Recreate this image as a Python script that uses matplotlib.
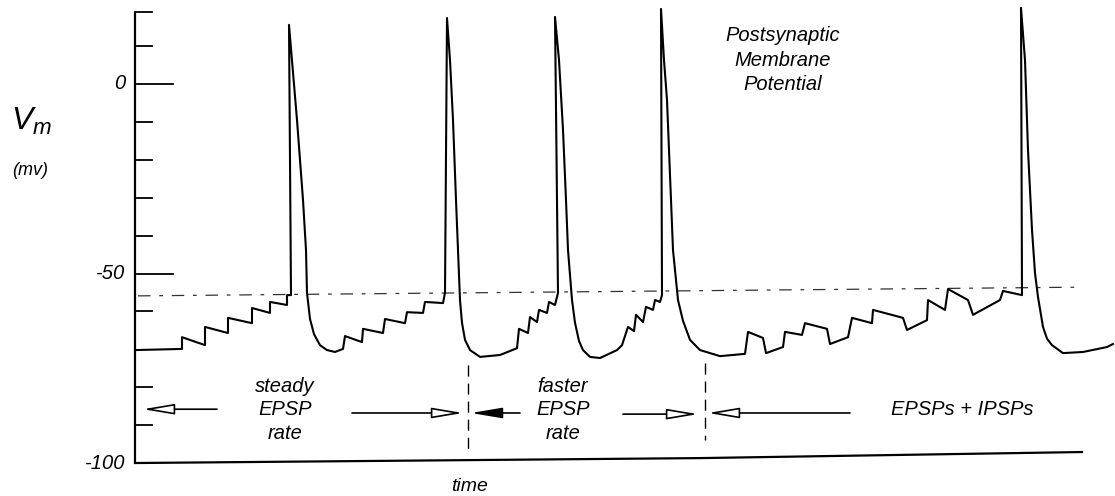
import matplotlib

matplotlib.use("Agg")
import matplotlib.pyplot as plt

plt.rcParams["font.family"] = ["Liberation Sans", "DejaVu Sans"]
plt.rcParams["mathtext.fontset"] = "custom"
plt.rcParams["mathtext.it"] = "Liberation Sans:italic"
plt.rcParams["mathtext.rm"] = "Liberation Sans"

# membrane potential trace (time in arbitrary units, V in mV)
TIME = [
    0.0, 4.7, 4.7, 7.0, 7.0, 9.3, 9.3, 11.7, 11.7, 13.5, 13.5, 15.2, 15.2, 15.6,
    15.4, 15.7, 16.2, 16.8, 17.1, 17.2, 17.5, 17.9, 18.5, 19.2, 20.0,
    20.8, 21.0, 22.7, 22.8, 24.8, 25.0, 27.0, 27.2, 28.8, 29.0, 30.8, 31.0,
    31.2, 31.5, 31.8, 32.1, 32.3, 32.5, 32.7, 33.0, 33.5, 34.5,
    36.5, 38.2, 38.4, 39.3, 39.5, 40.2, 40.4, 41.2, 41.4, 42.0, 42.2, 42.3,
    42.0, 42.4, 42.8, 43.1, 43.3, 43.7, 44.0, 44.4, 44.8, 45.5, 46.5,
    48.2, 48.7, 49.3, 49.9, 50.1, 50.8, 51.1, 51.8, 52.0, 52.5, 52.7,
    52.6, 52.9, 53.2, 53.6, 53.8, 54.3, 54.8, 55.5, 56.5, 58.5,
    61.0, 61.3, 62.8, 63.1, 64.8, 65.0, 66.7, 67.0, 69.2, 69.5, 71.3, 71.7,
    73.7, 73.8, 76.8, 77.2, 79.2, 79.3, 81.0, 81.3, 83.3, 83.8, 86.5, 86.8, 88.7,
    88.6, 89.0, 89.3, 89.7, 90.0, 90.3, 90.8, 91.2, 91.7, 92.8, 94.8, 97.2, 97.8,
]
VM = [
    -70.2, -69.9, -66.8, -68.9, -64.1, -65.7, -61.7, -63.1, -59.1, -60.4, -57.5, -58.3, -55.7, -55.7,
    15.6, 6.3, -9.5, -30.6, -43.8, -55.1, -62.0, -66.0, -68.9, -70.2, -70.7,
    -69.9, -66.5, -68.1, -64.6, -65.7, -62.0, -63.1, -60.2, -60.4, -57.5, -57.8, -55.1,
    17.4, 6.3, -9.5, -30.6, -43.8, -57.0, -63.0, -67.5, -70.2, -72.0,
    -71.5, -69.7, -64.6, -65.7, -61.5, -62.8, -59.6, -60.4, -57.5, -58.3, -56.2, -55.1,
    17.7, 6.3, -12.1, -30.6, -43.8, -57.0, -63.0, -67.8, -70.2, -72.0, -72.3,
    -70.2, -68.9, -64.1, -65.2, -60.9, -62.8, -58.8, -59.6, -57.0, -57.5, -55.7,
    19.8, 6.3, -4.2, -30.6, -43.8, -57.0, -62.5, -67.5, -70.2, -71.8,
    -71.2, -65.4, -67.0, -71.0, -69.4, -65.4, -66.2, -63.1, -64.6, -68.6, -66.8, -61.7,
    -63.1, -59.6, -61.7, -64.9, -62.3, -57.0, -59.6, -54.1, -57.0, -60.9, -57.0, -54.6, -55.7,
    20.1, 6.3, -17.4, -38.5, -49.9, -56.2, -64.1, -67.2, -68.9, -71.0, -70.7, -69.4, -68.6,
]

TICK_VALUES = [19, 10, 0, -10, -20, -30, -40, -50, -60, -80, -90]
LONG_TICKS = [0, -50]
TICK_LABELS = {0: "0", -50: "-50", -100: "-100"}

THRESHOLD_T = [0.3, 94.7]
THRESHOLD_V = [-55.9, -53.6]
BASELINE_T = [0.0, 56.5, 94.7]
BASELINE_V = [-100.0, -98.7, -97.1]

DIVIDER_T = [33.3, 57.0]
DIVIDER_V = [(-74.1, -97.9), (-73.6, -93.9)]

# (tail_t, tail_v, tip_t, tip_v, hollow head)
ARROWS = [
    (8.2, -85.8, 0.8, -85.8, True),
    (21.7, -86.8, 32.8, -86.8, True),
    (38.5, -86.8, 33.6, -86.8, False),
    (48.8, -87.1, 56.3, -87.1, True),
    (71.5, -86.8, 57.3, -86.8, True),
    (93.2, -84.7, 99.5, -84.7, True),
]

fig = plt.figure(figsize=(11.15, 4.96), dpi=100)
ax = fig.add_axes([0, 0, 1, 1])
ax.set_xlim(-13.5, 98.0)
ax.set_ylim(-108.7, 22.16)
ax.axis("off")

# hand-drawn axis
ax.plot([0, 0], [-100, 19], color="black", lw=1.6, solid_capstyle="butt")
for v in TICK_VALUES:
    length = 3.8 if v in LONG_TICKS else 1.7
    ax.plot([0, length], [v, v], color="black", lw=1.3)
ax.plot(BASELINE_T, BASELINE_V, color="black", lw=1.6)
for v, text in TICK_LABELS.items():
    ax.text(-1.0, v, text, ha="right", va="center", fontsize=14.5, style="italic")

# threshold
ax.plot(THRESHOLD_T, THRESHOLD_V, color="#333333", lw=0.9,
        linestyle=(0, (10, 7, 3, 7)))

# trace
ax.plot(TIME, VM, color="black", lw=1.5, solid_joinstyle="round")

# section dividers and arrows
for t, (v0, v1) in zip(DIVIDER_T, DIVIDER_V):
    ax.plot([t, t], [v0, v1], color="black", lw=1.0, linestyle=(0, (8, 5)))

for tail_t, tail_v, tip_t, tip_v, hollow in ARROWS:
    ax.annotate(
        "",
        xy=(tip_t, tip_v),
        xytext=(tail_t, tail_v),
        arrowprops=dict(
            arrowstyle="-|>,head_length=1.9,head_width=0.32",
            mutation_scale=10,
            fc="white" if hollow else "black",
            ec="black",
            lw=1.2,
            shrinkA=0,
            shrinkB=0,
        ),
    )

# labels
ax.text(-10.4, -9.8, r"$V_m$", ha="center", va="center", fontsize=23)
ax.text(-10.5, -22.7, "(mv)", ha="center", va="center", fontsize=13, style="italic")
ax.text(64.8, 6.3, "Postsynaptic\nMembrane\nPotential", ha="center", va="center",
        fontsize=14.5, style="italic", linespacing=1.38)
ax.text(15.0, -86.0, "steady\nEPSP\nrate", ha="center", va="center",
        fontsize=14.5, style="italic", linespacing=1.28)
ax.text(42.8, -86.0, "faster\nEPSP\nrate", ha="center", va="center",
        fontsize=14.5, style="italic", linespacing=1.28)
ax.text(82.7, -86.0, "EPSPs + IPSPs", ha="center", va="center",
        fontsize=14.5, style="italic")
ax.text(33.5, -106.3, "time", ha="center", va="center", fontsize=14, style="italic")

fig.savefig("out.png", dpi=100)
